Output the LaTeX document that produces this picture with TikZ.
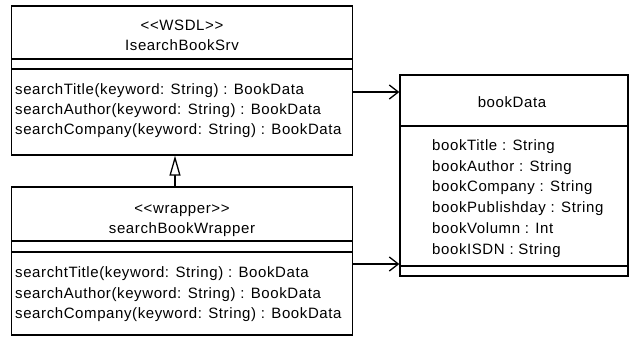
\documentclass[tikz,border=0pt]{standalone}
\usepackage{fontspec}
\setmainfont{Liberation Sans}[LetterSpace=4]
\usetikzlibrary{arrows.meta}
\begin{document}
\begin{tikzpicture}[x=1pt,y=-1pt,
  umlbox/.style={draw,line width=1.3pt,inner sep=0pt},
  sep/.style={line width=1.3pt},
  txt/.style={inner sep=0pt,anchor=base west,font=\fontsize{15}{16}\selectfont},
  ctxt/.style={inner sep=0pt,anchor=base,font=\fontsize{15}{16}\selectfont},
  assoc/.style={line width=1.3pt,-{Straight Barb[length=9pt,width=14pt,line width=1.3pt]}},
  gen/.style={line width=1.3pt,-{Triangle[open,length=20pt,width=11pt,line width=1.3pt,fill=white]}}]
\useasboundingbox (0,0) rectangle (630,338);
% Box 1
\node[umlbox,minimum width=341pt,minimum height=149pt] (srv) at (182,80.5) {};
\draw[sep] (12,59) -- (353,59) (12,69) -- (353,69);
\node[ctxt] (srvst) at (182,30) {{<}{<}WSDL{>}{>}};
\node[ctxt] (srvname) at (182,50) {IsearchBookSrv};
\node[txt] (s1) at (15,94) {searchTitle(keyword: String) : BookData};
\node[txt] (s2) at (15,114) {searchAuthor(keyword: String) : BookData};
\node[txt] (s3) at (15,134) {searchCompany(keyword: String) : BookData};
% Box 2
\node[umlbox,minimum width=341pt,minimum height=148pt] (wrp) at (182,261) {};
\draw[sep] (12,241) -- (353,241) (12,252) -- (353,252);
\node[ctxt] (wrpst) at (182,213) {{<}{<}wrapper{>}{>}};
\node[ctxt] (wrpname) at (182,233) {searchBookWrapper};
\node[txt] (w1) at (15,277) {searchtTitle(keyword: String) : BookData};
\node[txt] (w2) at (15,298) {searchAuthor(keyword: String) : BookData};
\node[txt] (w3) at (15,318) {searchCompany(keyword: String) : BookData};
% Box 3
\node[umlbox,minimum width=228pt,minimum height=201pt] (bd) at (514,175.5) {};
\draw[sep] (400,126) -- (628,126) (400,266) -- (628,266);
\node[ctxt] (bdname) at (512,107) {bookData};
\node[txt] (b1) at (432,150) {bookTitle : String};
\node[txt] (b2) at (432,171) {bookAuthor : String};
\node[txt] (b3) at (432,191) {bookCompany : String};
\node[txt] (b4) at (432,212) {bookPublishday : String};
\node[txt] (b5) at (432,233) {bookVolumn : Int};
\node[txt] (b6) at (432,254) {bookISDN : String};
% connectors
\coordinate (a1) at (353,92);
\coordinate (a2) at (353,264);
\draw[assoc] (a1) -- (a1 -| bd.west);
\draw[assoc] (a2) -- (a2 -| bd.west);
\coordinate (g1) at (175,187);
\draw[gen] (g1) -- (g1 |- srv.south);
\end{tikzpicture}
\end{document}
